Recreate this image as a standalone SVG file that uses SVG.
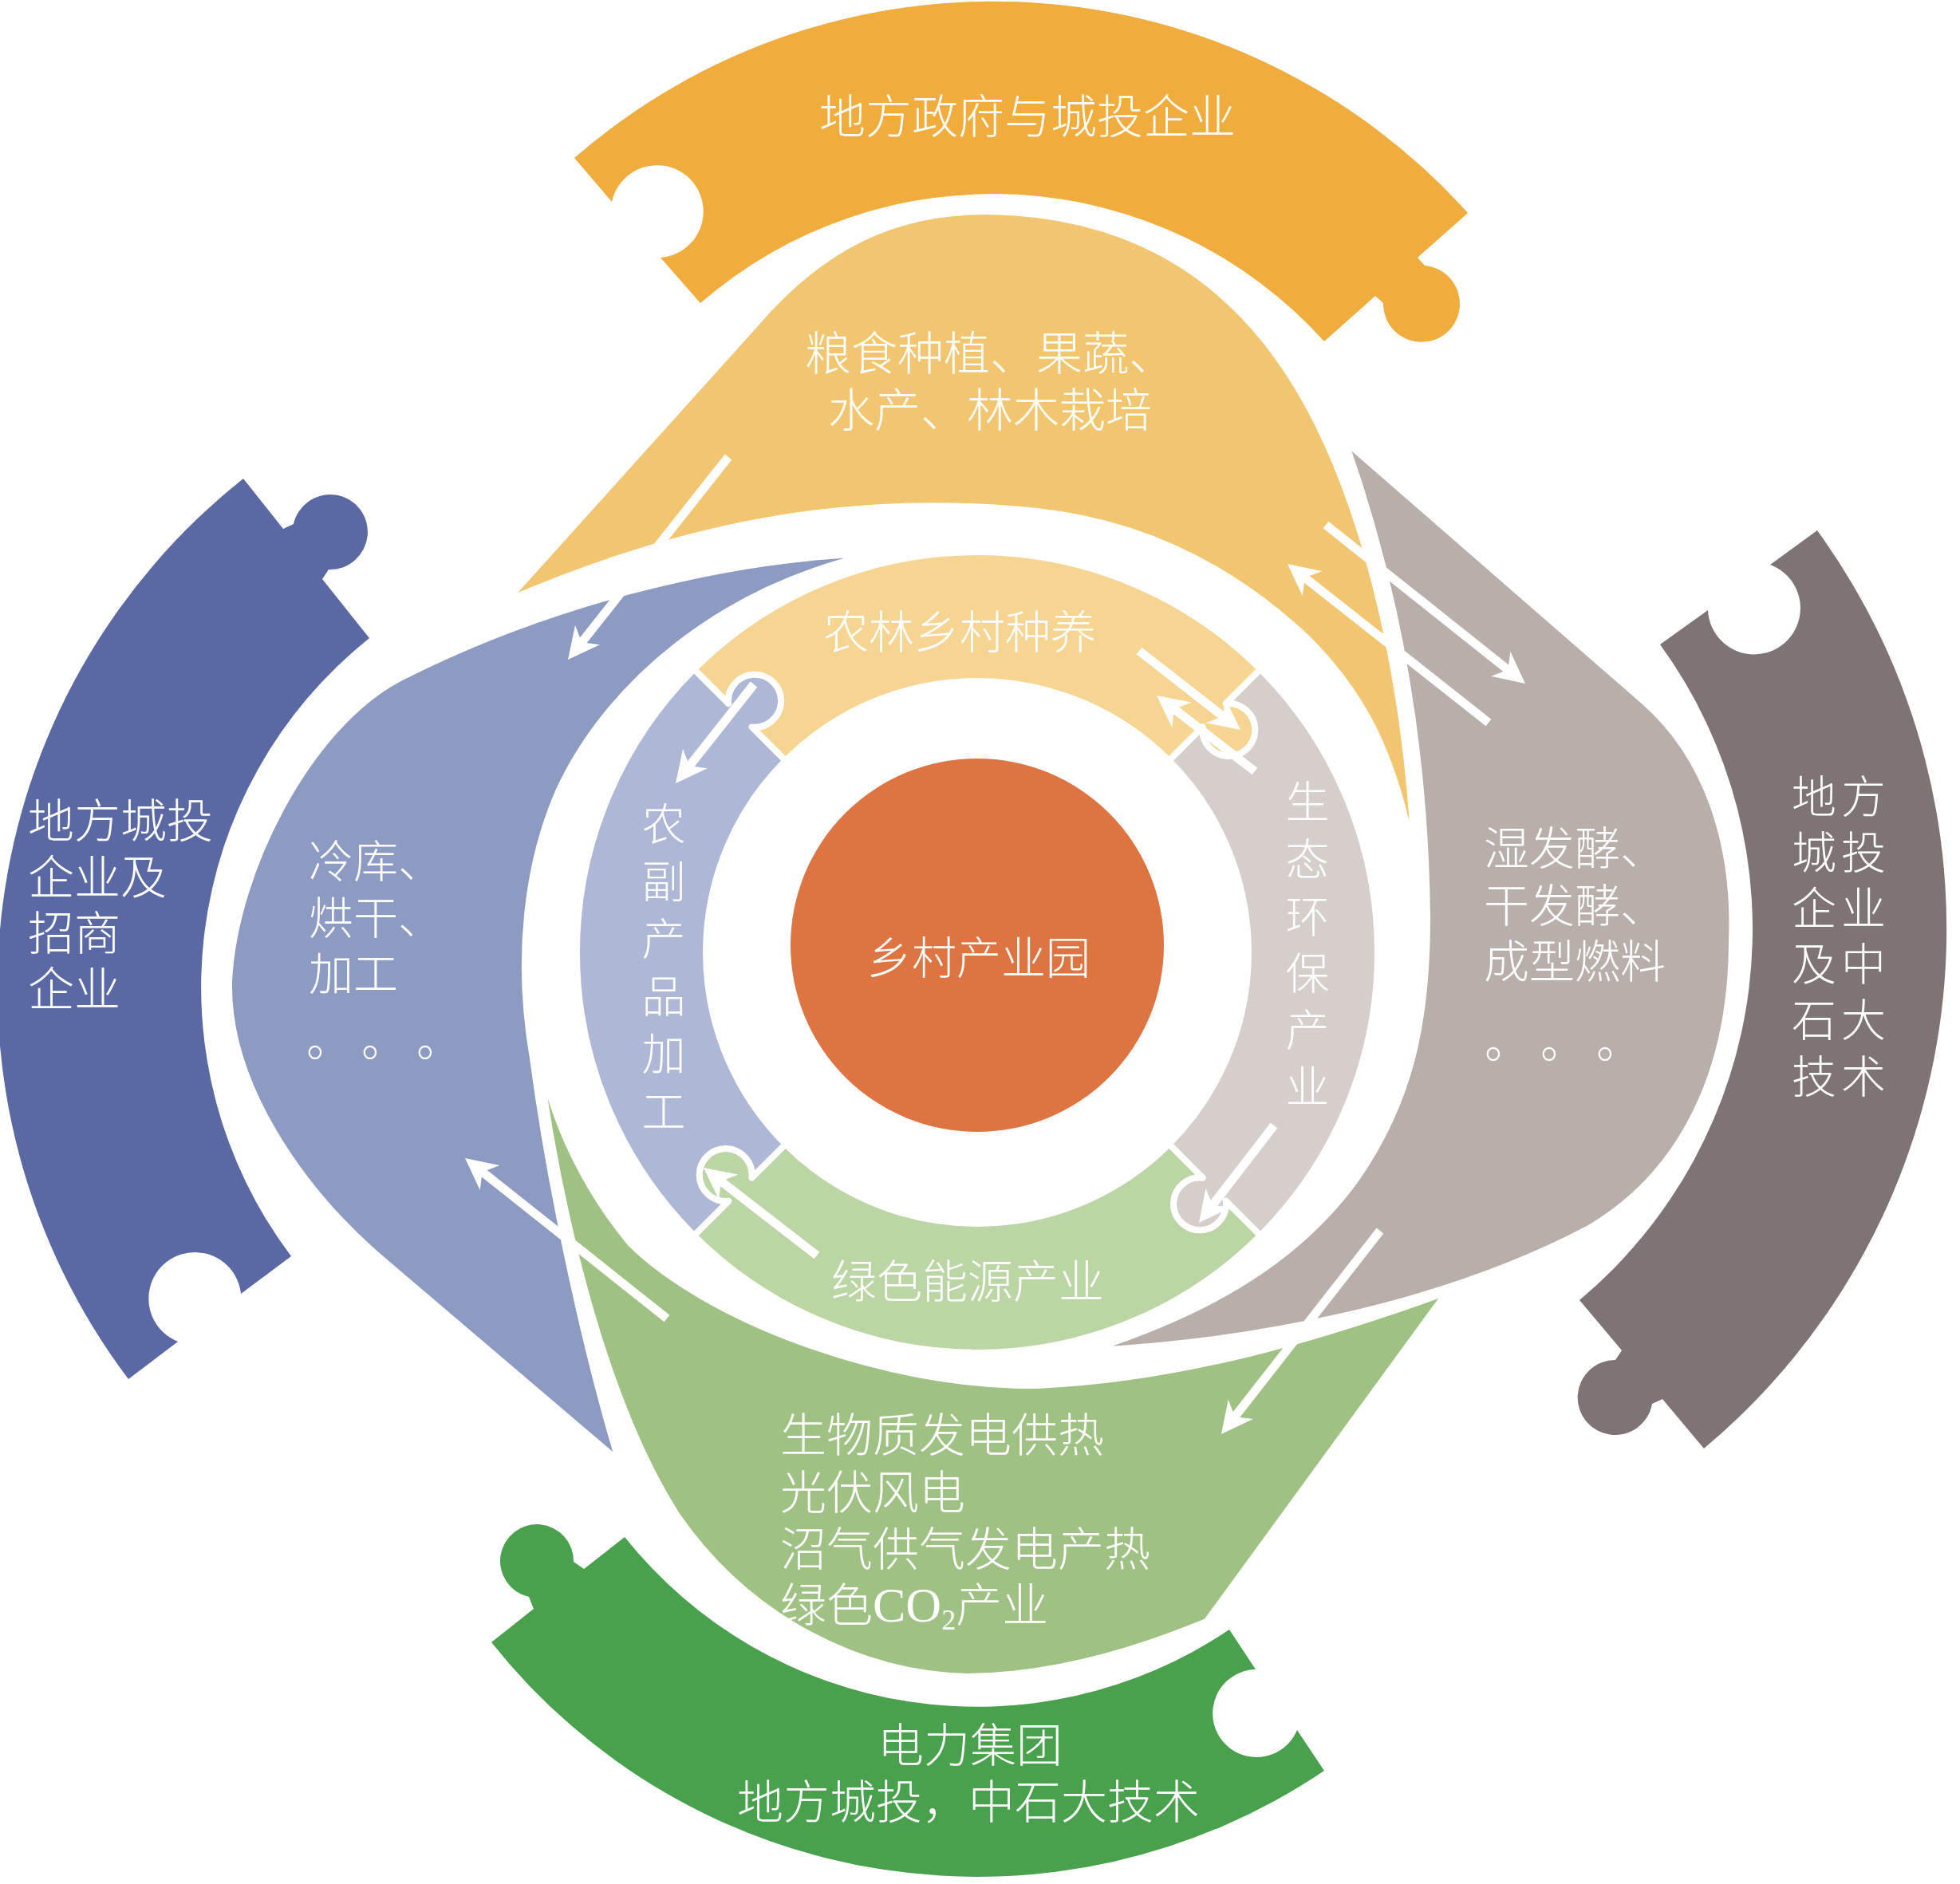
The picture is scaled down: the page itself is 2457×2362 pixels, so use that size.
<svg xmlns="http://www.w3.org/2000/svg" width="2457" height="2362" viewBox="0 0 2457 2362">
<defs>
<style>
.lbl{font-family:'Noto Sans CJK SC','Noto Sans CJK JP',sans-serif;fill:#ffffff;font-weight:300}
.petal{stroke:#ffffff;stroke-width:6;stroke-linejoin:round}
.seg{stroke:#ffffff;stroke-width:8;stroke-linejoin:round}
.arr{stroke:#ffffff;stroke-width:11;fill:none;marker-end:url(#ah)}
</style>
<marker id="ah" viewBox="0 0 10 10" refX="3" refY="5" markerWidth="3.6" markerHeight="3.6" orient="auto" markerUnits="strokeWidth">
<path d="M0,0 L10,5 L0,10 L3,5 Z" fill="#ffffff"/>
</marker>
</defs>
<rect width="2457" height="2362" fill="#ffffff"/>

<!-- outer puzzle pieces -->
<g id="piece-top">
<path fill="#F0AC3C" d="M 720 198 A 800 800 0 0 1 1840 267 L 1777 323 L 1786 333 A 48 48 0 1 1 1734 380 L 1724 371 L 1660 428 A 559 559 0 0 0 878 380 L 828 323 A 58 58 0 1 0 767 253 Z"/>
<text class="lbl" x="1288" y="167" font-size="58" text-anchor="middle">地方政府与城投企业</text>
</g>
<g id="piece-left">
<path fill="#5A69A4" d="M 161 1729 A 815 815 0 0 1 305 600 L 355 663 L 368 657 A 47 47 0 1 1 412 714 L 404 726 L 463 800 A 560 560 0 0 0 365 1575 L 302 1622 A 58 58 0 1 0 223 1682 Z"/>
<text class="lbl" font-size="58"><tspan x="35" y="1050">地方城投</tspan><tspan x="35" y="1121">企业及</tspan><tspan x="35" y="1191">招商</tspan><tspan x="35" y="1261">企业</tspan></text>
</g>
<g id="piece-right">
<path fill="#7E7473" d="M 2278 665 A 850 850 0 0 1 2136 1816 L 2084 1754 L 2071 1760 A 47 47 0 1 1 2025 1705 L 2033 1693 L 1980 1630 A 607 607 0 0 0 2081 808 L 2141 765 A 58 58 0 1 0 2219 708 Z"/>
<text class="lbl" font-size="56" letter-spacing="6"><tspan x="2246" y="1019">地方</tspan><tspan x="2246" y="1089">城投</tspan><tspan x="2246" y="1159">企业</tspan><tspan x="2246" y="1229">及中</tspan><tspan x="2246" y="1299">石大</tspan><tspan x="2246" y="1370">技术</tspan></text>
</g>
<g id="piece-bottom">
<path fill="#49A14E" d="M 1660 2220 A 778 778 0 0 1 616 2059 L 669 2017 L 663 2002 A 46 46 0 1 1 719 1958 L 732 1967 L 783 1927 A 565 565 0 0 0 1541 2043 L 1574 2093 A 55 55 0 1 0 1626 2169 Z"/>
<text class="lbl" font-size="58" text-anchor="middle"><tspan x="1216" y="2209">电力集团</tspan><tspan x="1214" y="2280">地方城投，中石大技术</tspan></text>
</g>

<!-- petals -->
<g id="petal-gray">
<path class="petal" fill="#B8AFAB" d="M 1688 556 L 2060 880 C 2140 950 2175 1060 2170 1180 C 2170 1340 2110 1470 1990 1540 C 1800 1640 1560 1682 1372 1692 C 1500 1650 1620 1590 1700 1480 C 1770 1380 1790 1280 1790 1150 C 1788 960 1760 760 1688 556 Z"/>
<text class="lbl" font-size="57"><tspan x="1860" y="1084">湿发酵、</tspan><tspan x="1860" y="1156">干发酵、</tspan><tspan x="1860" y="1226">成型燃料</tspan></text>
<text class="lbl" font-size="56" x="1861 1931 2001" y="1326">。。。</text>
</g>
<g id="petal-yellow">
<path class="petal" fill="#F2C670" d="M 638 751 L 945 410 C 1030 310 1120 266 1236 266 C 1420 268 1560 350 1650 530 C 1720 670 1762 870 1772 1068 C 1745 930 1700 860 1640 800 C 1550 715 1440 655 1300 640 C 1060 615 850 660 638 751 Z"/>
<text class="lbl" font-size="58" text-anchor="middle"><tspan x="1241" y="464">粮食种植、果蔬、</tspan><tspan x="1241" y="535">水产、林木栽培</tspan></text>
</g>
<g id="petal-blue">
<path class="petal" fill="#8D9AC2" d="M 1090 695 C 900 702 680 760 500 852 C 390 910 295 1090 288 1230 C 285 1360 380 1490 470 1570 L 774 1829 C 735 1700 690 1500 667 1327 C 645 1200 660 1080 700 990 C 760 860 900 738 1090 695 Z"/>
<text class="lbl" font-size="56"><tspan x="387" y="1100">冷库、</tspan><tspan x="387" y="1171">烘干、</tspan><tspan x="387" y="1241">加工</tspan></text>
<text class="lbl" font-size="56" x="384 453 522" y="1324">。。。</text>
</g>
<g id="petal-green">
<path class="petal" fill="#A0C184" d="M 673 1302 C 700 1520 760 1760 850 1900 C 940 2030 1080 2098 1213 2101 C 1330 2100 1440 2062 1512 2032 L 1811 1622 C 1650 1680 1480 1730 1300 1738 C 1100 1740 880 1650 790 1560 C 740 1500 688 1410 673 1302 Z"/>
<text class="lbl" font-size="58"><tspan x="978" y="1820">生物质发电供热</tspan><tspan x="978" y="1892">光伏风电</tspan><tspan x="978" y="1963">沼气供气发电产热</tspan><tspan x="978" y="2033">绿色<tspan font-family="'Liberation Serif',serif" font-weight="400" font-size="62">CO</tspan><tspan font-family="'Liberation Serif',serif" font-weight="400" font-size="36" dy="10">2</tspan><tspan dy="-10">产业</tspan></tspan></text>
</g>

<!-- inner ring -->
<g id="ring-top">
<path class="seg" fill="#F6D592" transform="translate(1225 1194)" d="M -355 -355 A 502 502 0 0 1 355 -355 L 311.8 -311.8 A 33 33 0 1 1 282.5 -282.5 L 240.4 -240.4 A 340 340 0 0 0 -240.4 -240.4 L -282.5 -282.5 A 33 33 0 1 0 -311.8 -311.8 Z"/>
<text class="lbl" x="1203" y="813" font-size="57" text-anchor="middle">农林乡村种养</text>
</g>
<g id="ring-right">
<path class="seg" fill="#D6CECB" transform="translate(1225 1194) rotate(90)" d="M -355 -355 A 502 502 0 0 1 355 -355 L 311.8 -311.8 A 33 33 0 1 1 282.5 -282.5 L 240.4 -240.4 A 340 340 0 0 0 -240.4 -240.4 L -282.5 -282.5 A 33 33 0 1 0 -311.8 -311.8 Z"/>
<text class="lbl" font-size="55" text-anchor="middle"><tspan x="1639" y="1025">生</tspan><tspan x="1639" y="1097">态</tspan><tspan x="1639" y="1169">环</tspan><tspan x="1639" y="1240">保</tspan><tspan x="1639" y="1311">产</tspan><tspan x="1639" y="1382">业</tspan></text>
</g>
<g id="ring-bottom">
<path class="seg" fill="#BCD5A4" transform="translate(1225 1194) rotate(180)" d="M -355 -355 A 502 502 0 0 1 355 -355 L 311.8 -311.8 A 33 33 0 1 1 282.5 -282.5 L 240.4 -240.4 A 340 340 0 0 0 -240.4 -240.4 L -282.5 -282.5 A 33 33 0 1 0 -311.8 -311.8 Z"/>
<text class="lbl" x="1213" y="1627" font-size="57" text-anchor="middle">绿色能源产业</text>
</g>
<g id="ring-left">
<path class="seg" fill="#AEB7D5" transform="translate(1225 1194) rotate(270)" d="M -355 -355 A 502 502 0 0 1 355 -355 L 311.8 -311.8 A 33 33 0 1 1 282.5 -282.5 L 240.4 -240.4 A 340 340 0 0 0 -240.4 -240.4 L -282.5 -282.5 A 33 33 0 1 0 -311.8 -311.8 Z"/>
<text class="lbl" font-size="55" text-anchor="middle"><tspan x="832" y="1053">农</tspan><tspan x="832" y="1125">副</tspan><tspan x="832" y="1197">产</tspan><tspan x="832" y="1269">品</tspan><tspan x="832" y="1341">加</tspan><tspan x="832" y="1413">工</tspan></text>
</g>

<g id="center">
<circle cx="1225" cy="1185" r="234" fill="#DD7442"/>
<text class="lbl" x="1227" y="1221" font-size="56" text-anchor="middle">乡村产业园</text>
</g>

<!-- connectors -->
<g id="connectors">
<line class="arr" x1="913" y1="573" x2="729.2" y2="805.3"/>
<line class="arr" x1="945" y1="858" x2="864.2" y2="960.3"/>
<line class="arr" x1="1662" y1="658" x2="1890.3" y2="839.7"/>
<line class="arr" x1="1866" y1="906" x2="1635.7" y2="724.2"/>
<line class="arr" x1="1428" y1="816" x2="1533.1" y2="898"/>
<line class="arr" x1="1573" y1="967" x2="1471.9" y2="888.9"/>
<line class="arr" x1="1597" y1="1411" x2="1519.9" y2="1511.1"/>
<line class="arr" x1="1730" y1="1543" x2="1548" y2="1776.2"/>
<line class="arr" x1="1024" y1="1574" x2="903.9" y2="1481"/>
<line class="arr" x1="836" y1="1653" x2="604.7" y2="1469.2"/>
</g>
</svg>
